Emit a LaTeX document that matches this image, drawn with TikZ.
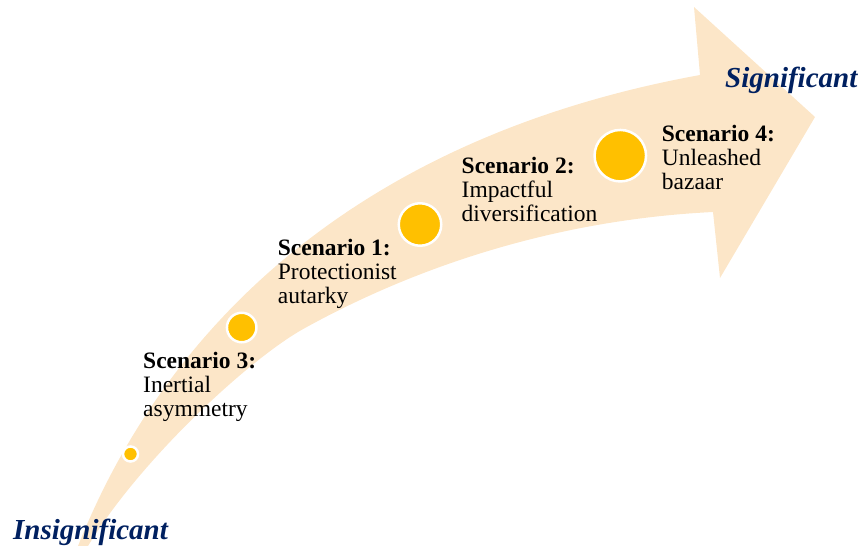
\documentclass[tikz,border=0pt]{standalone}
\usepackage{fontspec}
\setmainfont{Liberation Serif}
\usepackage{tikz}
\usetikzlibrary{positioning}
\definecolor{bandfill}{HTML}{FCE6C8}
\definecolor{dotfill}{HTML}{FFC000}
\definecolor{polenavy}{HTML}{002060}

\begin{document}
\begin{tikzpicture}[x=1pt, y=-1pt,
    band/.style={fill=bandfill},
    dot/.style={circle, draw=white, line width=2.5pt, fill=dotfill, inner sep=0pt},
    scen/.style={align=left, anchor=base west, inner sep=0pt,
                 font=\fontsize{23.5}{24}\selectfont},
    pole/.style={anchor=base west, inner sep=0pt, text=polenavy,
                 font=\fontsize{29}{32}\selectfont\bfseries\itshape}
]
\useasboundingbox (0,0) rectangle (862,546);

% Arrow
\fill[band] (78,546) .. controls (170,315) and (370,135) .. (700,75)
    -- (694,7) -- (815,117) -- (720,278) -- (713,212)
    .. controls (550,220) and (410,270) .. (305,328)
    .. controls (250,358) and (140,460) .. (88,546) -- cycle;

% Dots
\node[dot, minimum size=15pt]   (d3) at (130.5,454)   {};
\node[dot, minimum size=29.5pt] (d1) at (241.7,327.5) {};
\node[dot, minimum size=42.5pt] (d2) at (420,224.5)   {};
\node[dot, minimum size=51.5pt] (d4) at (620.3,155.7) {};

% Labels (anchored at the last line)
\node[scen] (s3) at (143,416)     {\textbf{Scenario 3:}\\Inertial\\asymmetry};
\node[scen] (s1) at (277.7,303.5) {\textbf{Scenario 1:}\\Protectionist\\autarky};
\node[scen] (s2) at (461.5,221.5) {\textbf{Scenario 2:}\\Impactful\\diversification};
\node[scen] (s4) at (661.7,189.7) {\textbf{Scenario 4:}\\Unleashed\\bazaar};

% Poles
\node[pole] (lo) at (13,539) {Insignificant};
\node[pole] (hi) at (725,87)  {Significant};

\end{tikzpicture}
\end{document}
